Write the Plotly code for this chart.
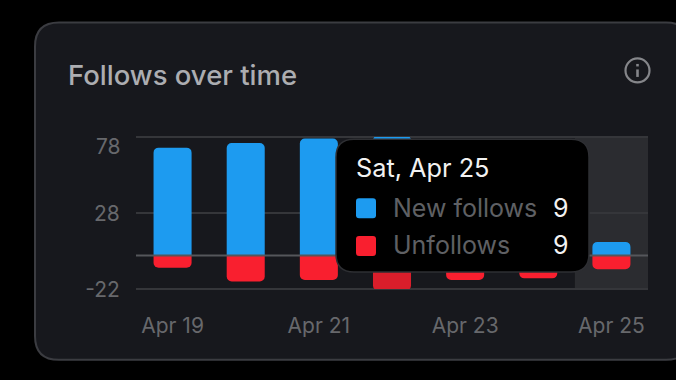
import plotly.graph_objects as go

days = ["Apr 19", "Apr 20", "Apr 21", "Apr 22", "Apr 23", "Apr 24", "Apr 25"]
new_follows = [71, 74, 77, 79, 58, 52, 9]
unfollows = [-8, -17, -16, -23, -16, -15, -9]
tick_days = ["Apr 19", "Apr 21", "Apr 23", "Apr 25"]
y_ticks = [-22, 28, 78]
y_labels = ["-22", "28", ""]

W, H = 676, 380
L, R, T, B = 136, 648, 136.7, 289
FONT = "Inter, Roboto, sans-serif"
BLUE, RED = "#1d9bf0", "#f91f2f"
GREY = "#67686c"
GRID = "#35363a"


def px(x):
    return (x - L) / (R - L)


def py(y):
    return 1 - (y - T) / (B - T)


def rrect(x0, y0, x1, y1, r):
    a, b, c, d = px(x0), py(y0), px(x1), py(y1)
    rx, ry = r / (R - L), r / (B - T)
    return (
        f"M{a+rx},{b} L{c-rx},{b} Q{c},{b} {c},{b-ry} L{c},{d+ry} Q{c},{d} {c-rx},{d} "
        f"L{a+rx},{d} Q{a},{d} {a},{d+ry} L{a},{b-ry} Q{a},{b} {a+rx},{b} Z"
    )


def box(x0, y0, x1, y1, r, fill, line=None, width=0, layer="above"):
    return dict(
        type="path", xref="paper", yref="paper", path=rrect(x0, y0, x1, y1, r),
        fillcolor=fill, line=dict(color=line or fill, width=width), layer=layer,
    )


def label(x, y, text, size, color, anchor="left", weight=400):
    return dict(
        xref="paper", yref="paper", x=px(x), y=py(y), text=text, showarrow=False,
        xanchor=anchor, yanchor="middle", font=dict(family=FONT, size=size, color=color, weight=weight),
    )


fig = go.Figure()
fig.add_bar(x=days, y=new_follows, name="New follows", marker=dict(color=BLUE, line_width=0),
            width=0.52, cliponaxis=False)
fig.add_bar(
    x=days, y=unfollows, name="Unfollows", width=0.52, cliponaxis=False,
    marker=dict(color=[RED, RED, RED, "#d91e2b", RED, RED, RED], line_width=0),
)

shapes = [
    box(35, 22, 690, 360, 24, "#17181d", "#3b3c41", 2, "below"),
    dict(type="rect", xref="x", yref="paper", x0=5.5, x1=6.5, y0=0, y1=1,
         fillcolor="#2b2c30", line_width=0, layer="below"),
    dict(type="line", xref="paper", yref="paper", x0=0, x1=1, y0=1, y1=1,
         line=dict(color=GRID, width=2), layer="below"),
    dict(type="line", xref="paper", yref="paper", x0=0, x1=1, y0=0, y1=0,
         line=dict(color=GRID, width=2), layer="below"),
    dict(type="line", xref="paper", yref="y", x0=0, x1=1, y0=0, y1=0,
         line=dict(color="#55565b", width=2), layer="above"),
    box(336, 139, 589, 272, 18, "#000000", "#2e2f33", 1.5),
    box(356, 198, 376, 218, 3, BLUE),
    box(356, 236, 376, 256, 3, RED),
    # info icon
    dict(type="circle", xref="paper", yref="paper", x0=px(625.5), x1=px(649.5), y0=py(82), y1=py(58),
         line=dict(color="#85868a", width=2.2), fillcolor="rgba(0,0,0,0)", layer="above"),
    dict(type="line", xref="paper", yref="paper", x0=px(637.5), x1=px(637.5), y0=py(69), y1=py(76.5),
         line=dict(color="#85868a", width=2.6), layer="above"),
    dict(type="line", xref="paper", yref="paper", x0=px(637.5), x1=px(637.5), y0=py(63.5), y1=py(66),
         line=dict(color="#85868a", width=2.6), layer="above"),
]

annotations = [
    label(66, 75, "Follows over time", 27.5, "#acadb1", weight=500),
    dict(xref="paper", yref="y", x=px(123), y=78, yshift=-9, text="78", showarrow=False,
         xanchor="right", yanchor="middle", font=dict(family=FONT, size=21, color=GREY)),
    label(354, 167, "Sat, Apr 25", 25.3, "#f2f2f2"),
    label(391, 207.5, "New follows", 25, "#5f6064"),
    label(391, 245, "Unfollows", 25, "#5f6064"),
    label(571, 207.5, "9", 25, "#f2f2f2", "right"),
    label(571, 245, "9", 25, "#f2f2f2", "right"),
]

fig.update_layout(
    width=W, height=H, barmode="relative", barcornerradius=5, showlegend=False,
    paper_bgcolor="#000000", plot_bgcolor="rgba(0,0,0,0)",
    margin=dict(l=L, r=W - R, t=T, b=H - B, pad=0),
    font=dict(family=FONT, size=21, color=GREY),
    shapes=shapes, annotations=annotations, hovermode=False,
    xaxis=dict(type="category", categoryorder="array", categoryarray=days, tickvals=tick_days,
               ticktext=tick_days, showgrid=False, zeroline=False, showline=False, ticks="outside",
               tickcolor="rgba(0,0,0,0)", ticklen=18, range=[-0.5, 6.5], automargin=False,
               tickfont=dict(size=21, color=GREY)),
    yaxis=dict(range=[-22, 78], tickvals=y_ticks, ticktext=y_labels, gridcolor=GRID, gridwidth=2,
               zeroline=False, showline=False, ticks="outside", ticklen=11, tickcolor="rgba(0,0,0,0)",
               ticklabelshift=1, automargin=False, tickfont=dict(size=21, color=GREY)),
)

fig.write_html(
    "out.html",
    config={"displayModeBar": False},
    post_script="document.body.style.margin='0';document.body.style.background='#000';document.documentElement.style.overflow='hidden';",
)
